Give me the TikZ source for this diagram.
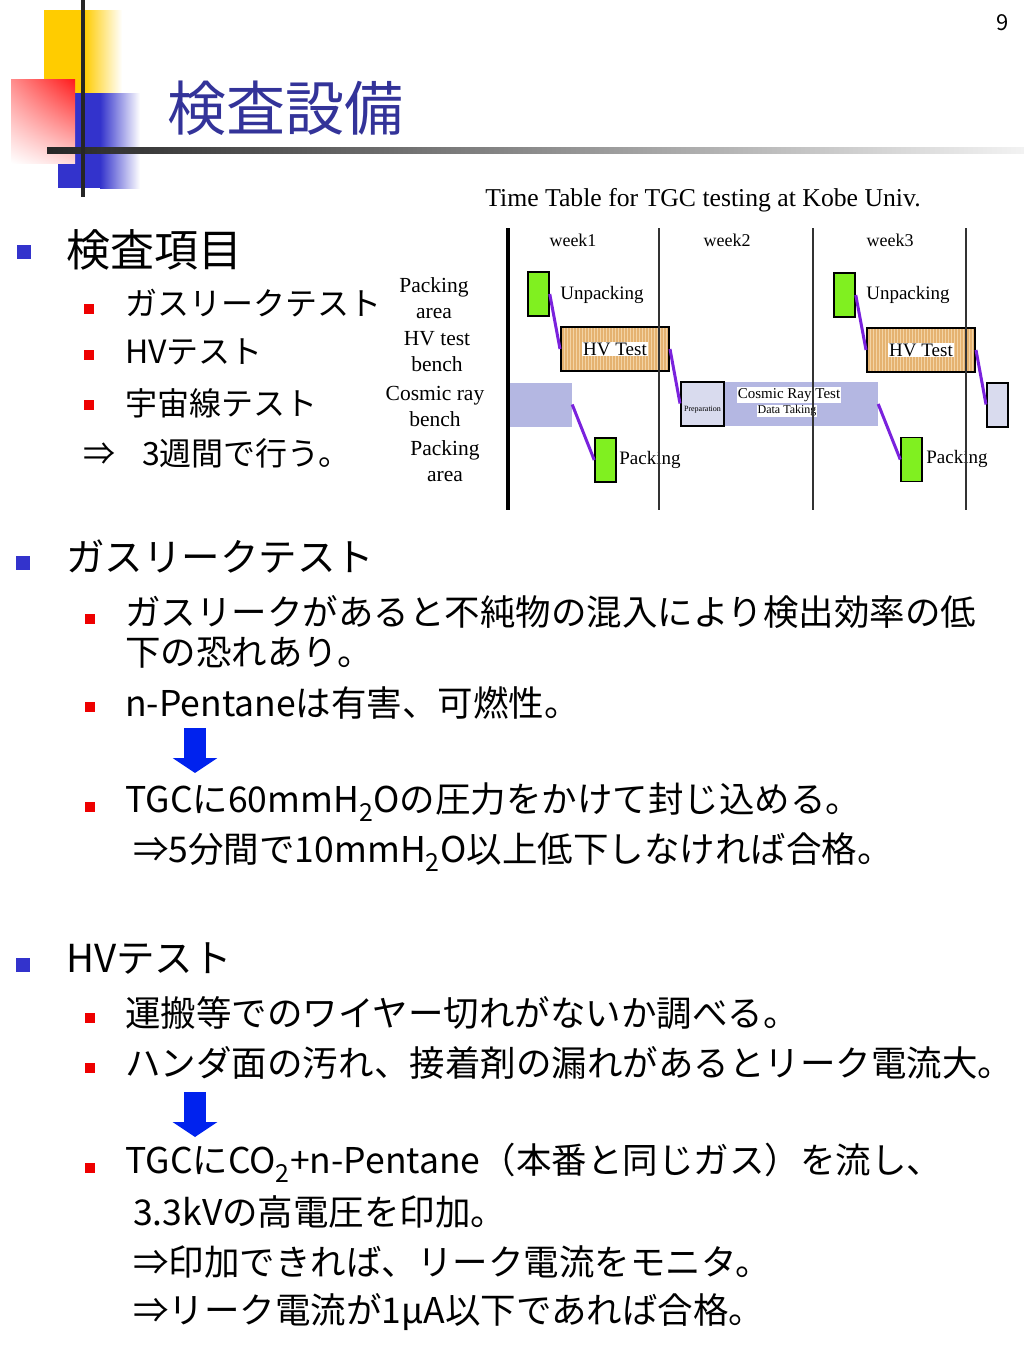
\documentclass[tikz,border=0pt]{standalone}
\usepackage{fontspec}
\setmainfont{Noto Sans CJK JP}
\newfontfamily\chartfont{Liberation Serif}
\usetikzlibrary{arrows.meta,positioning,patterns,shadings}

\definecolor{titleblue}{HTML}{333399}
\definecolor{bulletblue}{HTML}{3333CC}
\definecolor{bulletred}{HTML}{EE0000}
\definecolor{arrowblue}{HTML}{0022EE}
\definecolor{decoyellow}{HTML}{FFCC00}
\definecolor{decored}{HTML}{FF1A1A}
\definecolor{boxgreen}{HTML}{80F020}
\definecolor{hvtan}{HTML}{E5B270}
\definecolor{hvstripe}{HTML}{F3D3A4}
\definecolor{cosmicblue}{HTML}{B4B7E2}
\definecolor{prepgray}{HTML}{D9DBEE}
\definecolor{linkpurple}{HTML}{7A22DD}

\tikzset{every node/.style={inner sep=0pt},
         head/.style={anchor=west, font=\fontsize{44}{50}\selectfont},
         headtwo/.style={anchor=west, font=\fontsize{38.5}{45}\selectfont},
         item/.style={anchor=west, font=\fontsize{32}{40}\selectfont},
         itemtwo/.style={anchor=west, font=\fontsize{35.5}{42}\selectfont},
         bluebullet/.style={fill=bulletblue, minimum size=14pt},
         redbullet/.style={fill=bulletred, minimum size=10pt},
         bigarrow/.style={arrowblue, line width=22pt,
           -{Triangle[width=44pt,length=15pt]}},
         chart/.style={font=\chartfont\fontsize{#1}{26}\selectfont},
         rowlabel/.style={chart=21.5, align=center},
         greenbox/.style={draw, line width=1.5pt, fill=boxgreen,
           minimum width=21pt, minimum height=44pt},
         hvbox/.style={draw, line width=2pt, preaction={fill=hvtan},
           pattern=vertical lines, pattern color=hvstripe,
           minimum width=108pt, minimum height=44pt},
         cosmicband/.style={fill=cosmicblue, minimum height=44pt},
         prepbox/.style={draw, line width=2pt, fill=prepgray, minimum height=44pt},
         whitelabel/.style={fill=white, inner sep=1pt},
         link/.style={linkpurple, line width=3pt},
         weekline/.style={black!80, line width=1.5pt}}

\begin{document}
\begin{tikzpicture}[x=1pt, y=-1pt]
  \useasboundingbox (0,0) rectangle (1024,1365);
  \fill[white] (0,0) rectangle (1024,1365);

  % corner decoration
  \fill[decoyellow] (44,10) rectangle (84,93);
  \shade[left color=decoyellow, right color=white] (84,10) rectangle (122,93);
  \fill[bulletblue] (58,93) rectangle (100,188);
  \shade[left color=bulletblue, right color=white] (100,93) rectangle (140,188);
  \shade[upper left=red!45, upper right=decored, lower left=white,
         lower right=red!15] (11,79) rectangle (75,163);
  \shade[left color=black!85, right color=black!5] (47,147) rectangle (1024,153);
  \draw[black!85, line width=4pt] (83,0) -- (83,197);

  \node[anchor=west, text=titleblue, font=\fontsize{59}{62}\selectfont]
    (title) at (167,108) {検査設備};
  \node[font=\fontsize{22}{24}\selectfont] (page) at (1003,23) {9};

  % items
  \node[bluebullet] (sq-items) at (24,252) {};
  \node[head] (items) at (66,250) {検査項目};
  \node[redbullet] (sq-gas) at (89,309) {};
  \node[item] (gas) at (125,303) {ガスリークテスト};
  \node[redbullet] (sq-hv) at (89,355) {};
  \node[item] (hv) at (125,352) {HVテスト};
  \node[redbullet] (sq-cosmic) at (89,405) {};
  \node[item] (cosmic) at (125,403) {宇宙線テスト};
  \node[item] (weeks) at (83,453) {⇒\hspace{27pt}3週間で行う。};

  % gas leak test
  \node[bluebullet] (sq-gashead) at (23,563) {};
  \node[headtwo] (gashead) at (66,557) {ガスリークテスト};
  \node[redbullet] (sq-leak) at (90,619) {};
  \node[itemtwo] (leak) at (125,612) {ガスリークがあると不純物の混入により検出効率の低};
  \node[itemtwo] (leaktwo) at (125,653) {下の恐れあり。};
  \node[redbullet] (sq-pent) at (90,707) {};
  \node[itemtwo] (pent) at (125,703) {n-Pentaneは有害、可燃性。};
  \coordinate (arrowatop) at (195,728);
  \coordinate (arrowabot) at (195,773);
  \draw[bigarrow] (arrowatop) -- (arrowabot);
  \node[redbullet] (sq-press) at (90,807) {};
  \node[itemtwo] (press) at (125,802) {TGCに60mmH\textsubscript{2}Oの圧力をかけて封じ込める。};
  \node[itemtwo] (pass) at (133,852) {⇒5分間で10mmH\textsubscript{2}O以上低下しなければ合格。};

  % HV test
  \node[bluebullet] (sq-hvhead) at (23,965) {};
  \node[headtwo] (hvhead) at (66,959) {HVテスト};
  \node[redbullet] (sq-wire) at (90,1018) {};
  \node[itemtwo] (wire) at (125,1013) {運搬等でのワイヤー切れがないか調べる。};
  \node[redbullet] (sq-dirt) at (90,1068) {};
  \node[itemtwo] (dirt) at (125,1063) {ハンダ面の汚れ、接着剤の漏れがあるとリーク電流大。};
  \coordinate (arrowbtop) at (195,1092);
  \coordinate (arrowbbot) at (195,1137);
  \draw[bigarrow] (arrowbtop) -- (arrowbbot);
  \node[redbullet] (sq-gasflow) at (90,1168) {};
  \node[itemtwo] (gasflow) at (125,1163) {TGCにCO\textsubscript{2}+n-Pentane（本番と同じガス）を流し、};
  \node[itemtwo] (volt) at (133,1212) {3.3kVの高電圧を印加。};
  \node[itemtwo] (monitor) at (133,1262) {⇒印加できれば、リーク電流をモニタ。};
  \node[itemtwo] (hvpass) at (133,1312) {⇒リーク電流が1μA以下であれば合格。};

  % time table
  \node[chart=25.7] (ttitle) at (703,200) {Time Table for TGC testing at Kobe Univ.};
  \node[chart=18] (wk1) at (573,240) {week1};
  \node[chart=18] (wk2) at (727,240) {week2};
  \node[chart=18] (wk3) at (890,240) {week3};
  \node[rowlabel] (row-unpack) at (434,298) {Packing\\area};
  \node[rowlabel] (row-hv) at (437,351.5) {HV test\\bench};
  \node[rowlabel] (row-cosmic) at (435,406.5) {Cosmic ray\\bench};
  \node[rowlabel] (row-pack) at (445,461.5) {Packing\\area};

  \node[cosmicband, minimum width=64pt] (band1) at (540,404.5) {};
  \node[cosmicband, minimum width=155pt] (band2) at (800.5,404) {};
  \node[prepbox, minimum width=43pt] (prep) at (702.5,403.5) {};
  \node[prepbox, minimum width=21pt] (prep2) at (997.5,404.5) {};
  \node[greenbox] (unp1) at (538.5,294) {};
  \node[greenbox] (pack1) at (605.5,460) {};
  \node[greenbox] (unp2) at (844.5,295) {};
  \node[greenbox] (pack2) at (911.5,459.5) {};
  \node[hvbox] (hv1) at (615,349) {};
  \node[hvbox] (hv2) at (921,350) {};

  \node[chart=19, whitelabel] (hv1-lab) at (hv1) {HV Test};
  \node[chart=19, whitelabel] (hv2-lab) at (hv2) {HV Test};
  \node[chart=19] (unp1-lab) at (602,295) {Unpacking};
  \node[chart=19] (unp2-lab) at (908,295) {Unpacking};
  \node[chart=19] (pack1-lab) at (650,460) {Packing};
  \node[chart=19] (pack2-lab) at (957,459) {Packing};
  \node[chart=15, whitelabel] (cosmic-lab) at (789,395) {Cosmic Ray Test};
  \node[chart=12, whitelabel] (data-lab) at (787,411) {Data Taking};
  \node[chart=8] (prep-lab) at (702.5,410) {Preparation};

  \draw[link] (unp1.east) -- (hv1.west);
  \draw[link] (hv1.east) -- (prep.west);
  \draw[link] (band1.east) -- (pack1.west);
  \draw[link] (unp2.east) -- (hv2.west);
  \draw[link] (hv2.east) -- (prep2.west);
  \draw[link] (band2.east) -- (pack2.west);

  \draw[black, line width=4pt] (508,228) -- (508,510);
  \foreach \wx in {659,813,966}
    \draw[weekline] (\wx,228) -- (\wx,510);
\end{tikzpicture}
\end{document}
